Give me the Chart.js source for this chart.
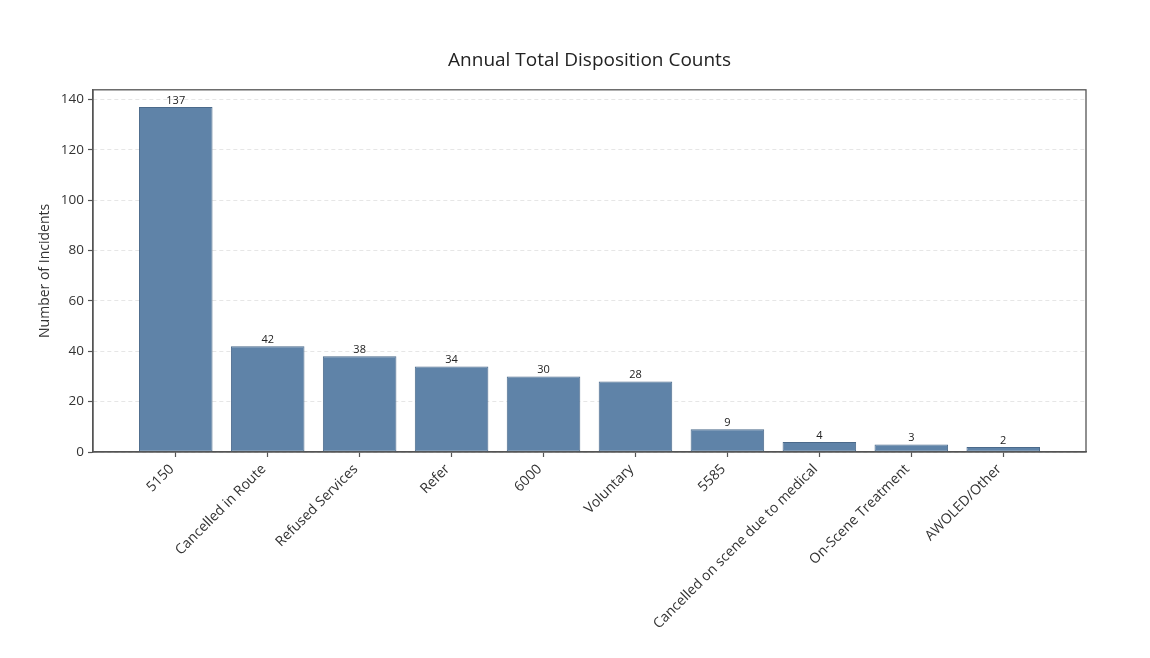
<!DOCTYPE html>
<html>
<head>
<meta charset="utf-8">
<script src="https://cdn.jsdelivr.net/npm/chart.js@4.4.1/dist/chart.umd.min.js"></script>
<style>
  html, body { margin: 0; padding: 0; background: #ffffff; }
  #wrap { width: 1150px; height: 658px; position: relative; }
</style>
</head>
<body>
<div id="wrap"><canvas id="c" width="1150" height="658"></canvas></div>
<script>
const categories = ["5150", "Cancelled in Route", "Refused Services", "Refer", "6000", "Voluntary", "5585", "Cancelled on scene due to medical", "On-Scene Treatment", "AWOLED/Other"];
const counts = [137, 42, 38, 34, 30, 28, 9, 4, 3, 2];
const yTicks = [0, 20, 40, 60, 80, 100, 120, 140];

const FONT = "'Open Sans', sans-serif";

const frame = {
  id: 'frame',
  afterDraw(chart) {
    const { ctx, chartArea: a } = chart;
    ctx.save();
    ctx.strokeStyle = '#555555';
    ctx.lineWidth = 1.3;
    ctx.setLineDash([]);
    ctx.strokeRect(a.left, a.top, a.right - a.left, a.bottom - a.top);
    ctx.restore();
  }
};

const valueLabels = {
  id: 'valueLabels',
  afterDatasetsDraw(chart) {
    const { ctx } = chart;
    const meta = chart.getDatasetMeta(0);
    ctx.save();
    ctx.font = "11px " + FONT;
    ctx.fillStyle = '#222222';
    ctx.textAlign = 'center';
    ctx.textBaseline = 'bottom';
    meta.data.forEach((bar, i) => {
      ctx.fillText(String(counts[i]), bar.x, bar.y - 1);
    });
    ctx.restore();
  }
};

new Chart(document.getElementById('c'), {
  type: 'bar',
  data: {
    datasets: [{
      data: counts.map((v, i) => ({ x: i, y: v })),
      backgroundColor: '#5f83a8',
      borderColor: '#4b6a8b',
      borderWidth: 1,
      borderSkipped: false,
      barPercentage: 0.8,
      categoryPercentage: 1.0
    }]
  },
  options: {
    responsive: false,
    animation: false,
    devicePixelRatio: 1,
    layout: { padding: { left: 0, right: 64, top: 0, bottom: 0 } },
    plugins: {
      legend: { display: false },
      tooltip: { enabled: false },
      title: {
        display: true,
        fullSize: false,
        text: 'Annual Total Disposition Counts',
        color: '#222222',
        font: { family: FONT, size: 19, weight: 'normal' },
        padding: { top: 49, bottom: 18 }
      }
    },
    scales: {
      x: {
        type: 'linear',
        min: -0.9,
        max: 9.9,
        offset: false,
        afterBuildTicks(scale) {
          scale.ticks = categories.map((c, i) => ({ value: i }));
        },
        afterFit(scale) { scale.height = 206; },
        ticks: {
          autoSkip: false,
          minRotation: 45,
          maxRotation: 45,
          padding: 4,
          labelOffset: -4,
          color: '#333333',
          font: { family: FONT, size: 14 },
          callback(v) { return categories[v]; }
        },
        grid: {
          display: true,
          offset: false,
          drawOnChartArea: false,
          drawTicks: true,
          tickLength: 5,
          tickColor: '#555555',
          tickWidth: 1.2
        },
        border: { display: true, color: '#555555', width: 1.3 }
      },
      y: {
        min: 0,
        max: 143.85,
        afterBuildTicks(scale) {
          scale.ticks = yTicks.map(v => ({ value: v }));
        },
        afterFit(scale) { scale.width = 93; },
        title: {
          display: true,
          text: 'Number of Incidents',
          color: '#333333',
          font: { family: FONT, size: 14 },
          padding: { top: 37, bottom: 0 }
        },
        ticks: {
          padding: 4,
          color: '#333333',
          font: { family: FONT, size: 13.5 }
        },
        grid: {
          color: '#e0e0e0',
          lineWidth: 0.8,
          tickLength: 5,
          tickColor: '#555555',
          tickWidth: 1.2,
          tickBorderDash: []
        },
        border: { display: true, color: '#555555', width: 1.3, dash: [4, 3] }
      }
    }
  },
  plugins: [frame, valueLabels]
});
</script>
</body>
</html>
